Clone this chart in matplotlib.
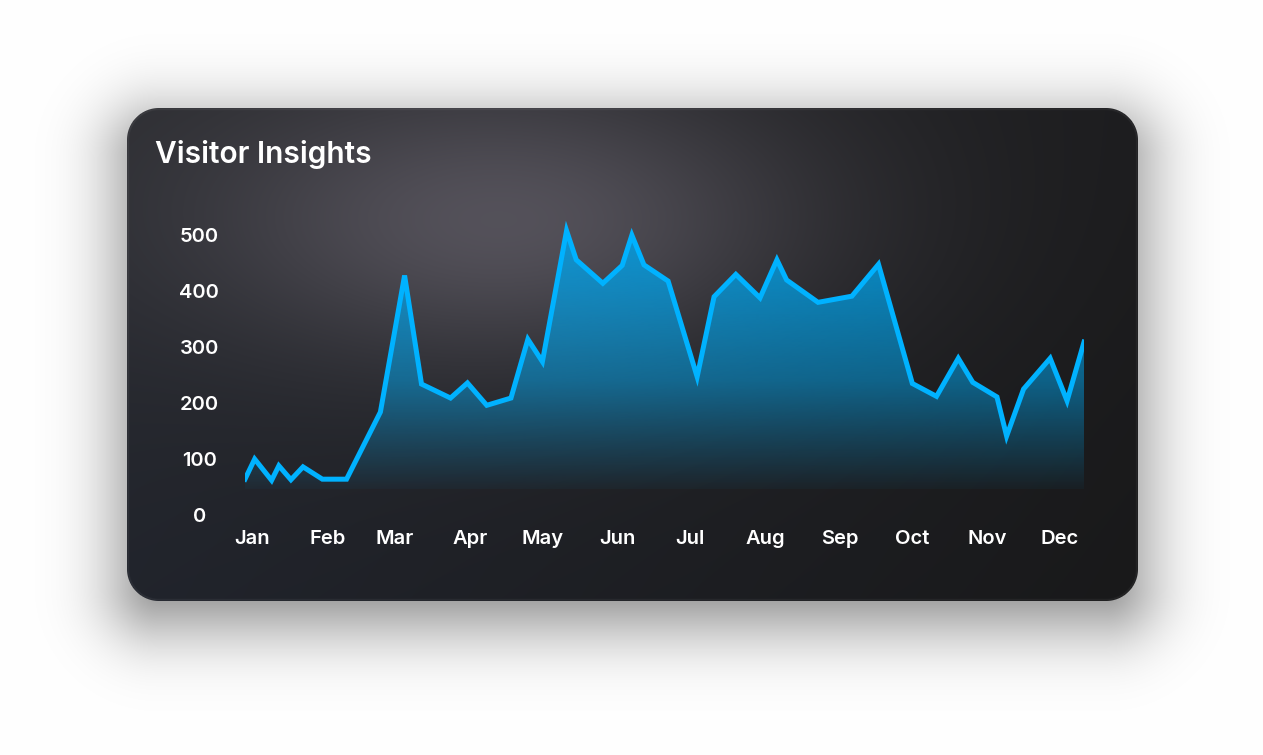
import math
import numpy as np
import pandas as pd
import matplotlib
matplotlib.use('Agg')
import matplotlib.pyplot as plt
import matplotlib.dates as mdates

# Datos (visitantes por fecha)
dates = ['2022-12-29', '2023-01-02', '2023-01-09', '2023-01-12', '2023-01-17',
         '2023-01-22', '2023-01-30', '2023-02-09', '2023-02-23', '2023-03-05',
         '2023-03-12', '2023-03-24', '2023-03-31', '2023-04-08', '2023-04-18',
         '2023-04-25', '2023-05-01', '2023-05-11', '2023-05-15', '2023-05-26',
         '2023-06-03', '2023-06-07', '2023-06-12', '2023-06-22', '2023-07-04',
         '2023-07-11', '2023-07-20', '2023-07-30', '2023-08-06', '2023-08-10',
         '2023-08-23', '2023-09-06', '2023-09-17', '2023-10-01', '2023-10-11',
         '2023-10-20', '2023-10-26', '2023-11-05', '2023-11-09', '2023-11-16',
         '2023-11-27', '2023-12-04', '2023-12-11']
visitors = [64, 100, 62, 88, 63, 86, 64, 64, 184, 428,
            234, 209, 236, 196, 209, 314, 274, 508, 456, 414,
            446, 500, 447, 418, 247, 390, 430, 388, 456, 420,
            380, 391, 448, 235, 212, 280, 237, 211, 141, 225,
            280, 204, 309]
y_ticks = [0, 100, 200, 300, 400, 500]
title = 'Visitor Insights'

W, H = 1263, 755
fig = plt.figure(figsize=(W / 100, H / 100), dpi=100)
fig.patch.set_facecolor('white')

# ---- tarjeta con sombra y fondo degradado ----
cx0, cy0, cx1, cy1, rad = 127, 108, 1138, 601, 32
yy, xx = np.mgrid[0:H, 0:W] + 0.5

def rounded_dist(x0, y0, x1, y1, r):
    cx, cy = (x0 + x1) / 2, (y0 + y1) / 2
    hw, hh = (x1 - x0) / 2 - r, (y1 - y0) / 2 - r
    dx = np.maximum(np.abs(xx - cx) - hw, 0)
    dy = np.maximum(np.abs(yy - cy) - hh, 0)
    inner = np.minimum(np.maximum(np.abs(xx - cx) - hw, np.abs(yy - cy) - hh), 0)
    return np.sqrt(dx ** 2 + dy ** 2) + inner - r

erf = np.vectorize(math.erf)
d_sh = rounded_dist(cx0, cy0 + 18, cx1, cy1 + 18, rad)
shadow = 0.52 * 0.5 * (1 - erf(d_sh / (math.sqrt(2) * 38)))
img = np.ones((H, W, 3)) * (1 - shadow)[..., None]

def hexrgb(h):
    return np.array([int(h[i:i + 2], 16) for i in (1, 3, 5)]) / 255

tl, tr = hexrgb('#2b2c30'), hexrgb('#1d1d1f')
bl, br = hexrgb('#21242c'), hexrgb('#19191a')
u = np.clip((xx - cx0) / (cx1 - cx0), 0, 1)[..., None]
v = np.clip((yy - cy0) / (cy1 - cy0), 0, 1)[..., None]
base = (tl * (1 - u) + tr * u) * (1 - v) + (bl * (1 - u) + br * u) * v
g = np.exp(-((xx - 500) ** 2 / (2 * 215 ** 2) + (yy - 220) ** 2 / (2 * 100 ** 2)))[..., None]
card = base * (1 - 0.92 * g) + hexrgb('#58555e') * 0.92 * g

d_card = rounded_dist(cx0, cy0, cx1, cy1, rad)
edge = np.clip(1 - np.abs(d_card + 1.2) / 1.5, 0, 1)[..., None]
card = card + 0.05 * edge
a_card = np.clip(0.5 - d_card, 0, 1)[..., None]
img = img * (1 - a_card) + card * a_card

bg = fig.add_axes([0, 0, 1, 1])
bg.imshow(np.clip(img, 0, 1), extent=[0, W, H, 0], aspect='auto', interpolation='bilinear')
bg.set_xlim(0, W)
bg.set_ylim(H, 0)
bg.axis('off')

fig.text(155 / W, 1 - 163 / H, title, color='white', fontsize=21.5,
         fontfamily='Inter', fontweight='semibold', va='baseline', ha='left')

# ---- gráfico de área ----
x = mdates.date2num(pd.to_datetime(dates))
y = np.array(visitors)
floor = 46
top = 545

ax = fig.add_axes([245 / W, 1 - 515 / H, (1084 - 245) / W, (515 - 210) / H])
ax.set_facecolor('none')

poly = ax.fill_between(x, y, floor, color='none', lw=0)
fy = np.linspace(0, 1, 256)
alpha = np.interp(fy, [0, 0.15, 0.42, 1.0], [0.04, 0.21, 0.52, 0.85])
grad = np.zeros((256, 1, 4))
grad[..., :3] = hexrgb('#00a2ea')
grad[:, 0, 3] = alpha
im = ax.imshow(grad, extent=[x[0], x[-1], floor, max(visitors)], origin='lower',
               aspect='auto', interpolation='bilinear', zorder=1)
im.set_clip_path(poly.get_paths()[0], transform=ax.transData)

ax.plot(x, y, color='#00b2ff', lw=3.6, solid_joinstyle='miter', zorder=3)

ax.set_xlim(x[0], x[-1])
ax.set_ylim(0, top)
ax.set_yticks(y_ticks)
ax.xaxis.set_major_locator(mdates.MonthLocator())
ax.xaxis.set_major_formatter(mdates.DateFormatter('%b'))
for s in ax.spines.values():
    s.set_visible(False)
ax.tick_params(axis='both', length=0, colors='white', labelsize=14.5)
ax.tick_params(axis='y', pad=33)
ax.tick_params(axis='x', pad=10.5)
for lab in ax.get_yticklabels() + ax.get_xticklabels():
    lab.set_fontfamily('Inter')
    lab.set_fontweight('semibold')
for lab in ax.get_yticklabels():
    lab.set_ha('center')

fig.savefig('out.png', dpi=100, facecolor='white')
